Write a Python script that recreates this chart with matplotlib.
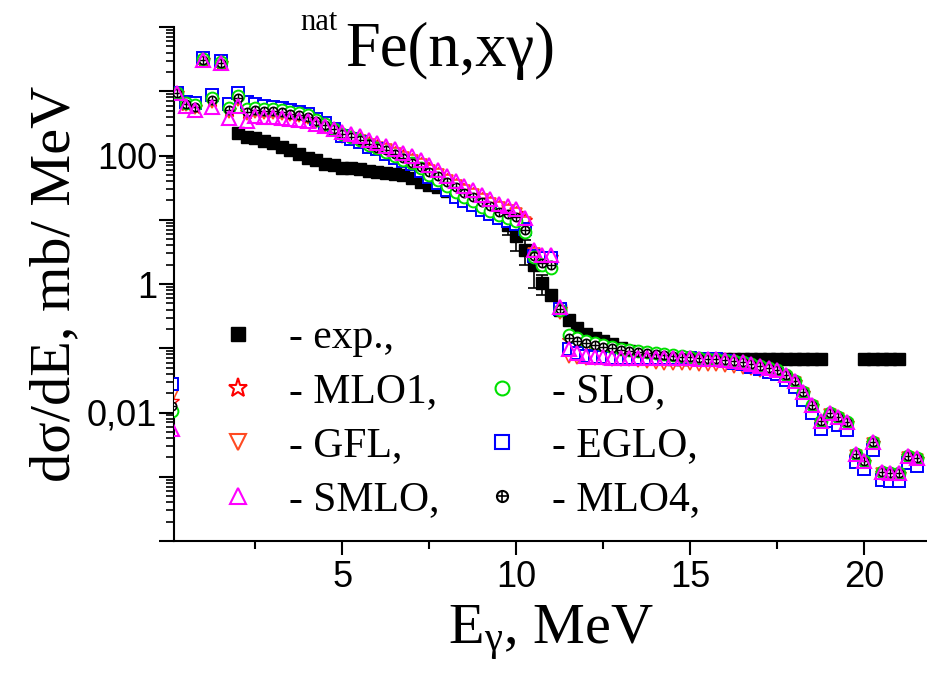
import numpy as np
import matplotlib
matplotlib.use('Agg')
import matplotlib.pyplot as plt
from matplotlib.lines import Line2D
from matplotlib.legend_handler import HandlerTuple
from matplotlib.ticker import LogLocator, MultipleLocator, FuncFormatter, NullFormatter

plt.rcParams['font.family'] = ['Liberation Serif', 'DejaVu Serif']
plt.rcParams['mathtext.fontset'] = 'custom'
plt.rcParams['mathtext.rm'] = 'Liberation Serif'
plt.rcParams['mathtext.it'] = 'Liberation Serif:italic'

# gamma energy grid of the calculations, MeV
E = [0.1,
     0.25, 0.5, 0.75, 1.0, 1.25, 1.5, 1.75, 2.0, 2.25, 2.5, 2.75, 3.0,
     3.25, 3.5, 3.75, 4.0, 4.25, 4.5, 4.75, 5.0, 5.25, 5.5, 5.75, 6.0,
     6.25, 6.5, 6.75, 7.0, 7.25, 7.5, 7.75, 8.0, 8.25, 8.5, 8.75, 9.0,
     9.25, 9.5, 9.75, 10.0, 10.25, 10.5, 10.75, 11.0, 11.25, 11.5, 11.75, 12.0,
     12.25, 12.5, 12.75, 13.0, 13.25, 13.5, 13.75, 14.0, 14.25, 14.5, 14.75, 15.0,
     15.25, 15.5, 15.75, 16.0, 16.25, 16.5, 16.75, 17.0, 17.25, 17.5, 17.75, 18.0,
     18.25, 18.5, 18.75, 19.0, 19.25, 19.5, 19.75, 20.0, 20.25, 20.5, 20.75, 21.0,
     21.25, 21.5]

mlo1 = [0.0152,
        930, 628, 563, 3030, 725, 2725, 506, 779, 471, 507, 489, 489,
        471, 439, 423, 394, 342, 296, 257, 207, 193, 178, 159, 143,
        128, 111, 99, 86, 75, 62, 52, 42, 35, 29.5, 25.5, 21.3,
        18.4, 15.9, 14.3, 12.9, 9.8, 3.15, 2.62, 2.62, 0.409, 0.133, 0.120, 0.111,
        0.104, 0.097, 0.093, 0.087, 0.084, 0.081, 0.078, 0.075, 0.072, 0.070, 0.068, 0.068,
        0.067, 0.065, 0.065, 0.063, 0.061, 0.058, 0.054, 0.051, 0.047, 0.044, 0.037, 0.030,
        0.020, 0.0125, 0.0072, 0.0093, 0.0081, 0.0068, 0.0021, 0.0017, 0.0033, 0.00113, 0.00109, 0.00109,
        0.00207, 0.00186]

gfl = [0.0181,
       930, 610, 540, 3030, 690, 2725, 480, 740, 440, 480, 465, 465,
       450, 425, 410, 385, 335, 292, 250, 192, 180, 167, 148, 133,
       120, 104, 93, 81, 70, 58, 49, 39.5, 33, 27.6, 23.9, 20.0,
       17.3, 15.0, 13.5, 12.1, 8.8, 2.9, 2.4, 2.3, 0.36, 0.072, 0.070, 0.068,
       0.068, 0.068, 0.066, 0.066, 0.065, 0.063, 0.061, 0.059, 0.057, 0.056, 0.056, 0.056,
       0.0555, 0.0543, 0.0543, 0.0525, 0.0506, 0.0490, 0.0470, 0.0450, 0.0430, 0.0410, 0.0350, 0.0286,
       0.0193, 0.0121, 0.0070, 0.0090, 0.0078, 0.0065, 0.00207, 0.00167, 0.00318, 0.00109, 0.00105, 0.00105,
       0.00199, 0.00180]

eglo = [0.028,
        930, 675, 650, 3250, 867, 2930, 627, 932, 673, 629, 584, 563,
        543, 507, 472, 438, 367, 318, 257, 199, 180, 161, 138, 124,
        107, 93, 83, 72.5, 58.4, 45.5, 36.7, 28.6, 23.0, 19.3, 16.7, 14.0,
        12.1, 10.5, 9.4, 8.5, 7.3, 2.72, 2.53, 2.53, 0.409, 0.0965, 0.0836, 0.0751,
        0.0724, 0.0724, 0.0699, 0.0699, 0.0699, 0.0699, 0.0699, 0.0699, 0.0699, 0.0699, 0.0699, 0.0699,
        0.0690, 0.0674, 0.0674, 0.0627, 0.0585, 0.0564, 0.0506, 0.0471, 0.0423, 0.0394, 0.0318, 0.0247,
        0.0155, 0.0098, 0.0056, 0.00725, 0.00628, 0.00526, 0.00167, 0.00134, 0.00257, 0.00088, 0.00085, 0.00085,
        0.00161, 0.00145]

slo = [0.0107,
       930, 651, 605, 3140, 779, 2820, 543, 837, 524, 545, 525, 525,
       506, 472, 455, 423, 354, 307, 257, 214, 193, 173, 148, 133,
       115, 100, 86.4, 75.1, 62.8, 50.6, 40.9, 33.0, 26.6, 22.2, 19.3, 15.6,
       13.5, 11.7, 10.5, 9.4, 6.36, 2.63, 1.97, 1.77, 0.394, 0.159, 0.143, 0.1285,
       0.1196, 0.1113, 0.1036, 0.0965, 0.0931, 0.0898, 0.0866, 0.0836, 0.0806, 0.0778, 0.0751, 0.0724,
       0.0699, 0.0674, 0.0674, 0.0650, 0.0628, 0.0606, 0.0563, 0.0525, 0.0489, 0.0455, 0.0380, 0.0307,
       0.0207, 0.0130, 0.0075, 0.00965, 0.00836, 0.0070, 0.00222, 0.00179, 0.00342, 0.00117, 0.00113, 0.00113,
       0.00214, 0.00193]

mlo4 = [0.0126,
        930, 628, 563, 3030, 725, 2725, 506, 779, 471, 507, 489, 489,
        471, 439, 423, 394, 342, 296, 257, 214, 193, 173, 153, 133,
        120, 104, 92.8, 77.8, 67.4, 56.3, 47.2, 38.0, 31.8, 25.7, 22.3, 18.6,
        16.1, 13.4, 12.1, 10.9, 6.84, 2.72, 2.12, 1.97, 0.409, 0.143, 0.1285, 0.1196,
        0.1113, 0.1036, 0.100, 0.0931, 0.0898, 0.0866, 0.0836, 0.0806, 0.0778, 0.0751, 0.0724, 0.0724,
        0.0699, 0.0674, 0.0674, 0.0650, 0.0628, 0.0606, 0.0563, 0.0525, 0.0489, 0.0455, 0.0380, 0.0307,
        0.0207, 0.0130, 0.0075, 0.00965, 0.00836, 0.0070, 0.00222, 0.00179, 0.00342, 0.00117, 0.00113, 0.00113,
        0.00214, 0.00193]

smlo = [0.0056,
        930, 585, 506, 3030, 564, 2725, 380, 585, 341, 409, 394, 394,
        380, 367, 354, 341, 307, 286, 257, 230, 215, 200, 177, 159,
        143, 124, 111, 96.5, 83.6, 69.9, 58.5, 47.2, 39.4, 33.0, 28.6, 23.9,
        20.7, 17.9, 16.1, 14.5, 10.5, 3.38, 2.82, 2.82, 0.439, 0.0965, 0.0836, 0.0751,
        0.0724, 0.0724, 0.0699, 0.0699, 0.0699, 0.0699, 0.0699, 0.0699, 0.0699, 0.0699, 0.0699, 0.0699,
        0.0690, 0.0674, 0.0674, 0.0650, 0.0628, 0.0606, 0.0563, 0.0525, 0.0489, 0.0455, 0.0380, 0.0307,
        0.0207, 0.0130, 0.0075, 0.00965, 0.00836, 0.0070, 0.00222, 0.00179, 0.00342, 0.00117, 0.00113, 0.00113,
        0.00214, 0.00193]

# experiment
exp_E = [2.0, 2.25, 2.5, 2.75, 3.0, 3.25, 3.5, 3.75, 4.0, 4.25, 4.5, 4.75,
         5.0, 5.25, 5.5, 5.75, 6.0, 6.25, 6.5, 6.75, 7.0, 7.25, 7.5, 7.75,
         8.0, 8.25, 8.5, 8.75, 9.0, 9.25, 9.5, 9.75, 10.0, 10.25, 10.5, 10.75,
         11.0, 11.25, 11.5, 11.75, 12.0, 12.25, 12.5, 12.75, 13.0, 13.25, 13.5, 13.75,
         14.0, 14.25, 14.5, 14.75, 15.0, 15.25, 15.5, 15.75, 16.0, 16.25, 16.5, 16.75,
         17.0, 17.25, 17.5, 17.75, 18.0, 18.25, 18.5, 18.75,
         20.0, 20.25, 20.5, 20.75, 21.0]
exp_y = [220, 197, 184, 171, 154, 138, 120, 107, 93, 84, 75, 70,
         65, 63, 61, 58, 56, 54, 52, 49, 44, 39, 35, 32,
         27.6, 23.9, 20.7, 17.9, 15.5, 13.4, 11.7, 8.4, 5.5, 3.38, 1.98, 1.04,
         0.674, 0.394, 0.276, 0.207, 0.167, 0.143, 0.1285, 0.1154, 0.100, 0.0898, 0.0836, 0.0779,
         0.0724, 0.0699, 0.067, 0.067, 0.067, 0.067, 0.067, 0.067, 0.067, 0.067, 0.067, 0.067,
         0.067, 0.067, 0.067, 0.067, 0.067, 0.067, 0.067, 0.067,
         0.067, 0.067, 0.067, 0.067, 0.067]
# relative errors where the bars show
err_E = [9.75, 10.0, 10.25, 10.5, 10.75]
err_rel = [0.30, 0.40, 0.42, 0.56, 0.35]

c_gfl = '#ff4a22'
c_slo = '#00e000'

fig = plt.figure(figsize=(9.27, 6.75), dpi=100)
ax = fig.add_axes([174 / 927, 1 - 541 / 675, 753 / 927, 514 / 675])
ax.set_yscale('log')

ax.plot(exp_E, exp_y, 's', color='black', ms=9, zorder=2)
exp_E_a = np.array(exp_E)
exp_y_a = np.array(exp_y)
sel = np.isin(exp_E_a, err_E)
err = np.array(err_rel) * exp_y_a[sel]
ax.errorbar(exp_E_a[sel], exp_y_a[sel], yerr=[err, err], fmt='none',
            ecolor='black', elinewidth=1.2, capsize=4, capthick=1.2, zorder=1.9)

ax.plot(E, mlo1, '*', ms=10, mfc='white', mec='red', mew=1.0, zorder=3)
ax.plot(E, gfl, 'v', ms=9, mfc='white', mec=c_gfl, mew=1.2, zorder=3.1)
ax.plot(E, eglo, 's', ms=8, mfc='white', mec='blue', mew=1.4, zorder=3.2)
ax.plot(E, slo, 'o', ms=8.5, mfc='white', mec=c_slo, mew=1.4, zorder=3.3)
ax.plot(E, mlo4, 'o', ms=6, mfc='white', mec='black', mew=1.2, zorder=3.4)
ax.plot(E, mlo4, '+', ms=6, color='black', mew=1.0, zorder=3.45)
ax.plot(E, smlo, '^', ms=10, mfc='none', mec='#ff00ff', mew=1.5, zorder=3.5)

ax.set_xlim(0.16, 21.8)
ax.set_ylim(1e-4, 1e4)

for s in ['top', 'right']:
    ax.spines[s].set_visible(False)
for s in ['left', 'bottom']:
    ax.spines[s].set_linewidth(1.5)

ax.xaxis.set_major_locator(MultipleLocator(5))
ax.xaxis.set_minor_locator(MultipleLocator(2.5))
ax.yaxis.set_major_locator(LogLocator(base=10, numticks=20))
ax.yaxis.set_minor_locator(LogLocator(base=10, subs=np.arange(2, 10), numticks=20))
ax.yaxis.set_minor_formatter(NullFormatter())

def ylab(v, pos):
    for val, txt in [(100, '100'), (1, '1'), (0.01, '0,01')]:
        if np.isclose(v, val):
            return txt
    return ''

ax.yaxis.set_major_formatter(FuncFormatter(ylab))
ax.tick_params(axis='both', which='major', direction='out', width=1.5,
               labelsize=26, labelfontfamily='Liberation Sans')
ax.tick_params(axis='x', which='major', length=10, pad=4)
ax.tick_params(axis='x', which='minor', length=6, width=1.5)
ax.tick_params(axis='y', which='major', length=11, pad=1)
ax.tick_params(axis='y', which='minor', length=5.5, width=1.2)

ax.set_xlabel('E$_{\\mathrm{γ}}$, MeV', fontsize=42, labelpad=6)
ax.set_ylabel('dσ/dE, mb/ MeV', fontsize=42, labelpad=4)

fig.text(300 / 927, 1 - 30 / 675, 'nat', fontsize=22, va='baseline', ha='left')
fig.text(345 / 927, 1 - 66 / 675, 'Fe(n,xγ)', fontsize=45, va='baseline', ha='left')

# legend
h_exp = Line2D([], [], ls='none', marker='s', color='black', ms=10)
h_mlo1 = Line2D([], [], ls='none', marker='*', mfc='white', mec='red', ms=14, mew=1.5)
h_gfl = Line2D([], [], ls='none', marker='v', mfc='white', mec=c_gfl, ms=12, mew=1.5)
h_smlo = Line2D([], [], ls='none', marker='^', mfc='white', mec='#ff00ff', ms=12, mew=1.5)
h_blank = Line2D([], [], ls='none')
h_slo = Line2D([], [], ls='none', marker='o', mfc='white', mec=c_slo, ms=10, mew=1.5)
h_eglo = Line2D([], [], ls='none', marker='s', mfc='white', mec='blue', ms=10, mew=1.5)
h_m4a = Line2D([], [], ls='none', marker='o', mfc='white', mec='black', ms=8, mew=1.5)
h_m4b = Line2D([], [], ls='none', marker='+', color='black', ms=8, mew=1.2)

handles = [h_exp, h_mlo1, h_gfl, h_smlo, h_blank, h_slo, h_eglo, (h_m4a, h_m4b)]
labels = ['- exp.,', '- MLO1,', '- GFL,', '- SMLO,', '', '- SLO,', '- EGLO,', '- MLO4,']
ax.legend(handles, labels, ncol=2, loc='upper left', bbox_to_anchor=(0.057, 0.432),
          frameon=False, fontsize=30, handlelength=1.0, handletextpad=0.72,
          columnspacing=1.0, labelspacing=0.37, borderpad=0, borderaxespad=0,
          handler_map={tuple: HandlerTuple(ndivide=1)})

fig.savefig('out.png', dpi=100)
